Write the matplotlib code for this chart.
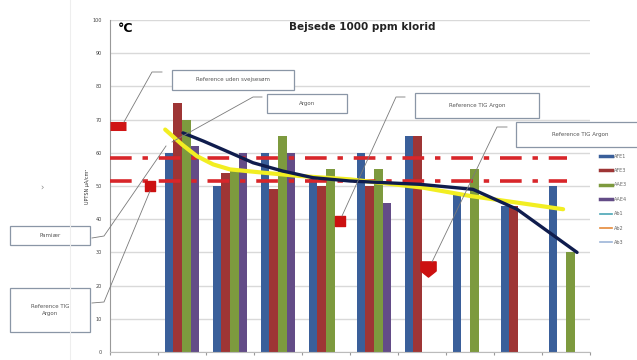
import matplotlib.pyplot as plt
import numpy as np
from matplotlib.lines import Line2D

# Bar groups (10 categories, first is empty)
categories = ["1", "2", "3", "4", "5", "6", "7", "8", "9", "10"]
afe1 = [None, 60, 50, 60, 52, 60, 65, 48, 44, 50]
afe3 = [None, 75, 54, 49, 50, 50, 65, None, 44, None]
aae3 = [None, 70, 55, 65, 55, 55, None, 55, None, 30]
aae4 = [None, 62, 60, 60, None, 45, None, None, None, None]
series_names = ["AFE1", "AFE3", "AAE3", "AAE4", "Ab1", "Ab2", "Ab3"]
bar_colors = ["#3a5f9a", "#9e3535", "#7d9a3e", "#634c87"]
extra_colors = ["#4aa5b5", "#e58a3a", "#9db5d8"]

# trend curves (category position, value)
argon_x = [0.65, 1.0, 1.31, 1.65, 2.0, 2.7, 3.46, 4.5, 6.02, 7.0, 7.98, 8.94]
argon_y = [67, 62.5, 59, 56.5, 55, 54, 53, 52, 49.5, 47, 45, 43]
ref_x = [1.02, 1.45, 1.85, 2.48, 3.1, 3.73, 4.5, 5.96, 7.06, 7.98, 9.23]
ref_y = [66, 63.5, 61, 57, 54.5, 52.5, 51.5, 50.5, 49, 43, 30]

# reference limits (dash-dot)
limits = [58.5, 51.5]
limit_span = [-0.5, 9.02]

# red reference markers
sq_x = [0.33, 4.29]
sq_y = [50, 39.5]
wide_x = [-0.5, -0.17]
wide_y = [68, 68]
arrow_x = [6.13]
arrow_y = [25]

fig = plt.figure(figsize=(6.37, 3.6), dpi=100)
W, H = 637, 360
ax = fig.add_axes([110 / W, (H - 352) / H, 480 / W, 332 / H])

x = np.arange(len(categories))
bw = 0.18
for i, (vals, col) in enumerate(zip([afe1, afe3, aae3, aae4], bar_colors)):
    xs = [x[k] + (i - 1.5) * bw for k, v in enumerate(vals) if v is not None]
    hs = [v for v in vals if v is not None]
    ax.bar(xs, hs, width=bw, color=col, zorder=2)

for v in limits:
    ax.plot(limit_span, [v, v], color="#d8262a", lw=2.6,
            dashes=(6, 3, 1.5, 3), zorder=3)

ax.plot(argon_x, argon_y, color="#f2ee22", lw=3, zorder=4,
        solid_capstyle="round")
ax.plot(ref_x, ref_y, color="#0f1c4d", lw=2.4, zorder=5,
        solid_capstyle="round")

ax.plot(wide_x, wide_y, color="#d01515", lw=6.5, solid_capstyle="butt",
        zorder=6, clip_on=False)
ax.scatter(sq_x, sq_y, marker="s", s=60, color="#cc1010", zorder=6)
arrow_marker = [(-1, 1), (1, 1), (1, -0.2), (0, -1), (-1, -0.2), (-1, 1)]
ax.scatter(arrow_x, arrow_y, marker=arrow_marker, s=120, color="#cc1010",
           zorder=6)

ax.set_xlim(-0.5, 9.5)
ax.set_ylim(0, 100)
ax.set_yticks(np.arange(0, 101, 10))
ax.set_yticklabels([str(v) for v in range(0, 101, 10)], fontsize=3.5,
                   color="#444444")
ax.set_xticks(np.arange(-0.5, 10, 1))
ax.set_xticklabels([])
ax.tick_params(axis="y", length=0, pad=6)
ax.tick_params(axis="x", length=2, color="#999999", direction="out")
ax.grid(axis="y", color="#d9d9d9", lw=1, zorder=0)
ax.set_axisbelow(True)
for s in ["top", "right"]:
    ax.spines[s].set_visible(False)
ax.spines["left"].set_color("#999999")
ax.spines["bottom"].set_color("#bbbbbb")
ax.set_ylabel("UPTSN \u00b5A/cm\u00b2", fontsize=3.5, labelpad=2,
              color="#333333")

# overlay in pixel coordinates for titles, callouts and legend
ov = fig.add_axes([0, 0, 1, 1], zorder=10)
ov.set_xlim(0, W)
ov.set_ylim(H, 0)
ov.axis("off")

ov.plot([70, 70], [0, H], color="#eeeeee", lw=0.8)
ov.text(118, 29, "\u00b0C", fontsize=9, fontweight="bold", va="center")
ov.text(362, 27, "Bejsede 1000 ppm klorid", fontsize=7.5,
        fontweight="bold", ha="center", va="center", color="#222222")

boxes = [
    ((172, 70, 294, 90), "Reference uden svejses\u00f8m"),
    ((267, 94, 347, 113), "Argon"),
    ((415, 93, 539, 118), "Reference TIG Argon"),
    ((516, 122, 645, 147), "Reference TIG Argon"),
    ((10, 226, 90, 245), "Pami\u00e6r"),
    ((10, 288, 90, 332), "Reference TIG\nArgon"),
]
for (x0, y0, x1, y1), txt in boxes:
    ov.add_patch(plt.Rectangle((x0, y0), x1 - x0, y1 - y0, fill=True,
                               fc="white", ec="#8a96a6", lw=0.9,
                               clip_on=False))
    ov.text((x0 + x1) / 2, (y0 + y1) / 2, txt, fontsize=4, ha="center",
            va="center", color="#555555", linespacing=1.6)

leaders = [
    [(162, 72), (152, 72), (124, 122)],
    [(262, 97), (253, 97), (172, 142)],
    [(405, 97), (396, 97), (342, 216)],
    [(507, 127), (497, 127), (432, 262)],
    [(92, 238), (104, 236), (166, 146)],
    [(92, 303), (104, 302), (150, 191)],
]
for pts in leaders:
    xs, ys = zip(*pts)
    ov.plot(xs, ys, color="#7a7a7a", lw=0.6)

ov.text(40, 188, "\u203a", fontsize=6, color="#888888", va="center")

# legend
leg_colors = bar_colors + extra_colors
for i, (name, col) in enumerate(zip(series_names, leg_colors)):
    y = 156 + i * 14.4
    ov.plot([600, 612], [y, y], color=col, lw=2.5 if i < 4 else 1.2)
    ov.text(614, y, name, fontsize=3.5, va="center", color="#666666")

fig.savefig("out.png", dpi=100)
